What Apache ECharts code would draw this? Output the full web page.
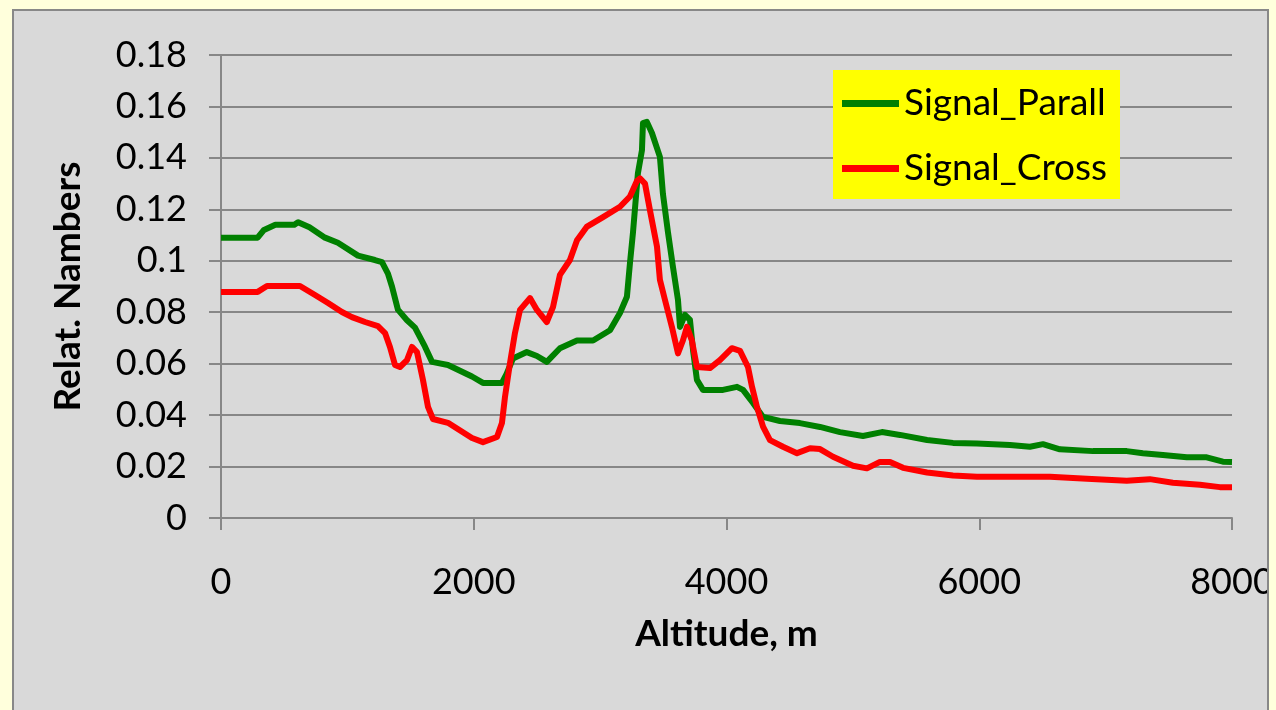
<!DOCTYPE html>
<html>
<head>
<meta charset="utf-8">
<script src="https://cdn.jsdelivr.net/npm/echarts@6/dist/echarts.min.js"></script>
<style>
  html, body { margin: 0; padding: 0; background: #FFFFDC; }
  #chart { width: 1276px; height: 710px; }
</style>
</head>
<body>
<div id="chart"></div>
<script>
// Lidar signal profiles versus altitude
const seriesNames = ['Signal_Parall', 'Signal_Cross'];

const parallAlt = [0, 290, 340, 430, 580, 610, 700, 823, 925, 1084, 1218, 1274, 1321, 1353, 1400, 1470, 1535, 1614, 1670, 1796, 1986, 2073, 2223, 2260, 2310, 2420, 2500, 2578, 2682, 2817, 2944, 3078, 3157, 3212, 3236, 3260, 3299, 3331, 3339, 3370, 3410, 3473, 3497, 3537, 3576, 3616, 3632, 3671, 3711, 3735, 3766, 3814, 3972, 4083, 4131, 4210, 4289, 4423, 4581, 4740, 4898, 5080, 5230, 5373, 5587, 5792, 5982, 6243, 6401, 6504, 6638, 6900, 7167, 7295, 7453, 7642, 7800, 7928, 8000];
const parallVal = [0.109, 0.109, 0.112, 0.114, 0.114, 0.115, 0.113, 0.109, 0.107, 0.102, 0.1003, 0.0995, 0.095, 0.090, 0.081, 0.077, 0.074, 0.0666, 0.0607, 0.0595, 0.055, 0.0525, 0.0525, 0.056, 0.062, 0.0645, 0.063, 0.0607, 0.066, 0.069, 0.069, 0.073, 0.0797, 0.086, 0.099, 0.111, 0.134, 0.143, 0.1535, 0.154, 0.1497, 0.1404, 0.126, 0.111, 0.0977, 0.0848, 0.0743, 0.079, 0.077, 0.0653, 0.0537, 0.0498, 0.0498, 0.051, 0.0498, 0.0447, 0.0393, 0.0377, 0.0369, 0.0354, 0.0334, 0.0319, 0.0334, 0.0323, 0.0303, 0.0292, 0.029, 0.0284, 0.0277, 0.0287, 0.0267, 0.026, 0.026, 0.0252, 0.0245, 0.0236, 0.0236, 0.0219, 0.0218];

const crossAlt = [0, 290, 364, 625, 744, 847, 957, 1036, 1140, 1242, 1298, 1337, 1377, 1416, 1472, 1511, 1551, 1598, 1638, 1677, 1796, 1986, 2073, 2184, 2223, 2247, 2287, 2326, 2366, 2445, 2500, 2578, 2627, 2682, 2761, 2817, 2896, 3023, 3157, 3236, 3291, 3315, 3355, 3394, 3450, 3473, 3513, 3568, 3616, 3655, 3687, 3726, 3766, 3869, 3948, 4043, 4107, 4170, 4202, 4241, 4289, 4344, 4447, 4558, 4661, 4740, 4843, 5001, 5111, 5214, 5294, 5397, 5587, 5792, 5982, 6560, 6852, 7167, 7350, 7532, 7746, 7904, 8000];
const crossVal = [0.0879, 0.0879, 0.0902, 0.0902, 0.0867, 0.0836, 0.0801, 0.0781, 0.0762, 0.0746, 0.0719, 0.0665, 0.0595, 0.0587, 0.0614, 0.0665, 0.0645, 0.0537, 0.0432, 0.0385, 0.037, 0.0311, 0.0295, 0.0315, 0.0369, 0.047, 0.0603, 0.0719, 0.0809, 0.0855, 0.0809, 0.0762, 0.082, 0.0945, 0.1003, 0.108, 0.1133, 0.117, 0.121, 0.125, 0.131, 0.132, 0.130, 0.1197, 0.1055, 0.0926, 0.0848, 0.0743, 0.064, 0.069, 0.0743, 0.069, 0.0587, 0.0583, 0.0614, 0.066, 0.065, 0.0587, 0.051, 0.0432, 0.0355, 0.0303, 0.0277, 0.0252, 0.0271, 0.0268, 0.0238, 0.0203, 0.0193, 0.0218, 0.0218, 0.0195, 0.0177, 0.0165, 0.016, 0.016, 0.0153, 0.0145, 0.0151, 0.0137, 0.0129, 0.012, 0.012];

const xAxisTitle = 'Altitude, m';
const yAxisTitle = 'Relat. Nambers';

const FONT = 'Lato, "Open Sans", sans-serif';
const AXIS_GRAY = '#878787';

const pairs = (xs, ys) => xs.map((x, i) => [x, ys[i]]);

const chart = echarts.init(document.getElementById('chart'), null, { renderer: 'canvas' });

chart.setOption({
  backgroundColor: '#FFFFDC',
  animation: false,
  textStyle: { fontFamily: FONT },
  graphic: [
    // chart area panel
    { type: 'rect', z: -10, shape: { x: 13, y: 10, width: 1255, height: 720 },
      style: { fill: '#D9D9D9', stroke: '#888888', lineWidth: 2 } },
    // page margin at the right edge, covering anything beyond the panel
    { type: 'rect', z: 100, shape: { x: 1269, y: 0, width: 10, height: 710 },
      style: { fill: '#FFFFDC' } },
    { type: 'line', z: 101, shape: { x1: 1268, y1: 10, x2: 1268, y2: 710 },
      style: { stroke: '#888888', lineWidth: 2 } },
    // legend box
    { type: 'rect', z: 50, shape: { x: 833, y: 70, width: 287, height: 129 },
      style: { fill: '#FFFF00' } }
  ],
  legend: {
    z: 60,
    orient: 'vertical',
    left: 833,
    top: 70,
    padding: [15, 8, 14, 9],
    itemGap: 28,
    itemWidth: 57,
    itemHeight: 7,
    itemTextGap: 11,
    icon: 'rect',
    data: seriesNames,
    textStyle: { fontFamily: FONT, fontSize: 37, color: '#000', lineHeight: 36 }
  },
  grid: { left: 221, right: 44, top: 55, bottom: 192, containLabel: false, outerBoundsMode: 'none' },
  xAxis: {
    type: 'value',
    min: 0,
    max: 8000,
    interval: 2000,
    name: xAxisTitle,
    nameLocation: 'middle',
    nameGap: 98,
    nameTextStyle: { fontFamily: FONT, fontSize: 37, fontWeight: 'bold', color: '#000' },
    axisLine: { show: true, onZero: false, lineStyle: { color: AXIS_GRAY, width: 2 } },
    axisTick: { show: true, inside: false, length: 12, lineStyle: { color: AXIS_GRAY, width: 2 } },
    axisLabel: { margin: 46, fontFamily: FONT, fontSize: 36, color: '#000', formatter: v => String(v) },
    splitLine: { show: false }
  },
  yAxis: {
    type: 'value',
    min: 0,
    max: 0.18,
    interval: 0.02,
    name: yAxisTitle,
    nameLocation: 'middle',
    nameGap: 134,
    nameTextStyle: { fontFamily: FONT, fontSize: 37, fontWeight: 'bold', color: '#000' },
    axisLine: { show: true, lineStyle: { color: AXIS_GRAY, width: 2 } },
    axisTick: { show: true, inside: false, length: 12, lineStyle: { color: AXIS_GRAY, width: 2 } },
    axisLabel: {
      margin: 34, fontFamily: FONT, fontSize: 36, color: '#000',
      formatter: v => (Math.round(v * 100) / 100).toString()
    },
    splitLine: { show: true, lineStyle: { color: AXIS_GRAY, width: 2 } }
  },
  series: [
    {
      name: seriesNames[0],
      type: 'line',
      data: pairs(parallAlt, parallVal),
      showSymbol: false,
      symbol: 'none',
      color: '#008000',
      lineStyle: { color: '#008000', width: 6, join: 'round' },
      z: 3
    },
    {
      name: seriesNames[1],
      type: 'line',
      data: pairs(crossAlt, crossVal),
      showSymbol: false,
      symbol: 'none',
      color: '#FF0000',
      lineStyle: { color: '#FF0000', width: 6, join: 'round' },
      z: 4
    }
  ]
});
</script>
</body>
</html>
